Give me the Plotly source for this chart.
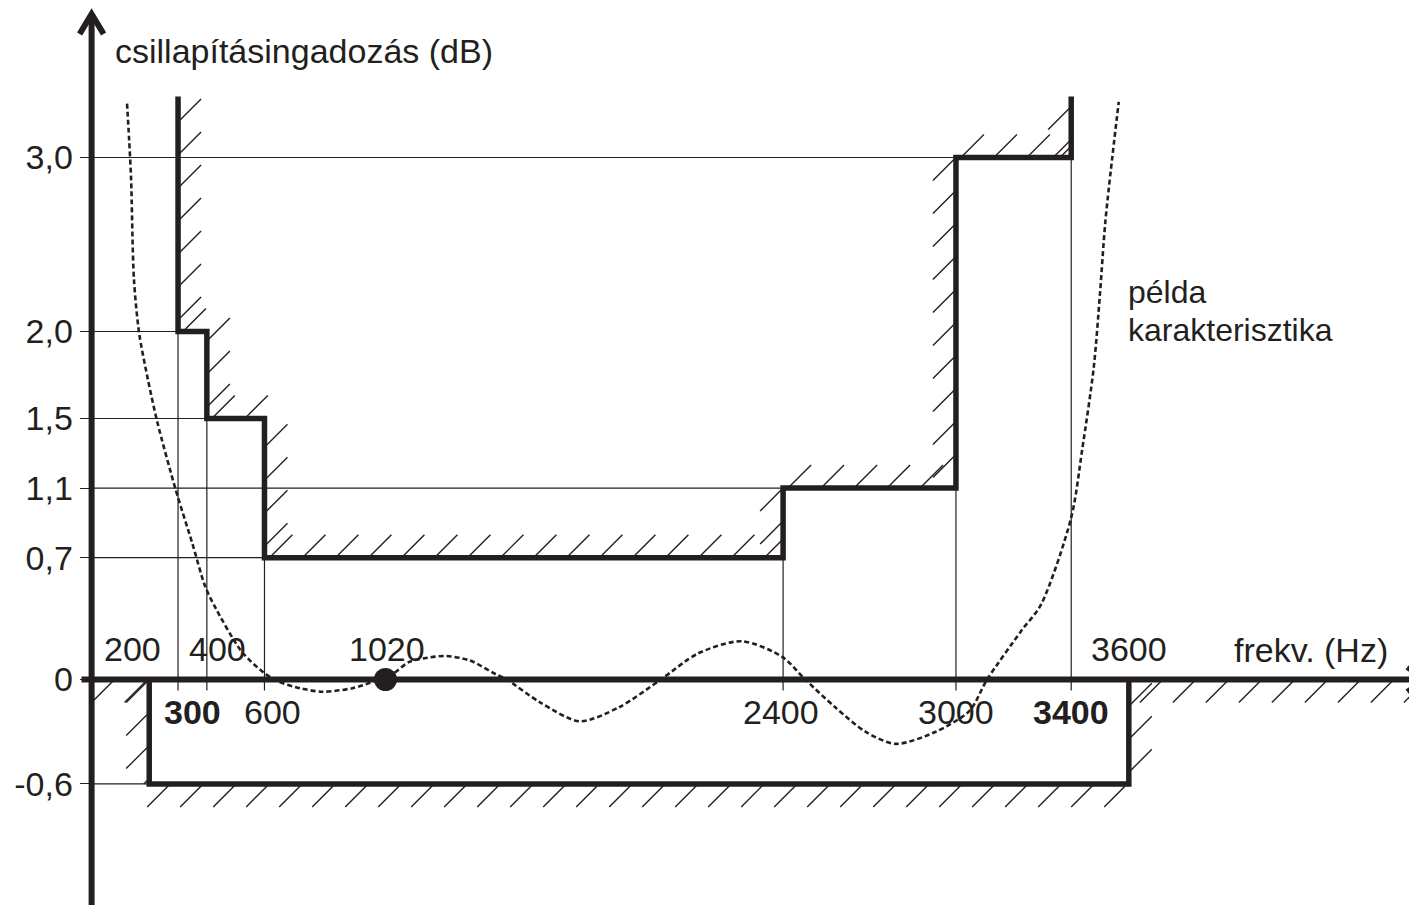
import plotly.graph_objects as go

# ---------------- data ----------------
UPPER_EDGES_HZ = [300, 400, 600, 2400, 3000, 3400]     # step edges of the upper limit mask
UPPER_LIMITS_DB = [2.0, 1.5, 0.7, 1.1, 3.0]             # limit between consecutive edges
MASK_TOP_DB = 3.35                                      # open-ended top of the mask walls
LOWER_EDGES_HZ = [200, 3600]                            # lower mask edges
LOWER_LIMIT_DB = -0.6
REF_FREQ_HZ = 1020
REF_LEVEL_DB = 0.0

Y_TICK_VALUES = [-0.6, 0, 0.7, 1.1, 1.5, 2.0, 3.0]
Y_TICK_TEXT = ["-0,6", "0", "0,7", "1,1", "1,5", "2,0", "3,0"]

X_LABELS_ABOVE_HZ = [200, 400, 1020, 3600]
X_LABELS_ABOVE = ["200", "400", "1020", "3600"]
X_LABELS_BELOW_HZ = [300, 600, 2400, 3000, 3400]
X_LABELS_BELOW = ["<b>300</b>", "600", "2400", "3000", "<b>3400</b>"]

Y_TITLE = "csillapításingadozás (dB)"
X_TITLE = "frekv. (Hz)"
CURVE_LABEL = ["példa", "karakterisztika"]

# example characteristic (dotted curve)
EXAMPLE_HZ = [123, 130, 137, 147, 165, 196, 228, 292, 350, 393, 424, 521, 597, 646, 723, 801,
              906, 984, 1020, 1101, 1166, 1231, 1312, 1403, 1441, 1555, 1694, 1830, 1976, 2105,
              2257, 2397, 2477, 2581, 2686, 2791, 2930, 3047, 3108, 3227, 3295, 3400, 3438, 3478,
              3500, 3519, 3565]
EXAMPLE_DB = [3.31, 3.11, 2.88, 2.30, 1.99, 1.72, 1.48, 1.09, 0.78, 0.54, 0.43, 0.16, 0.04, -0.01,
              -0.05, -0.07, -0.05, -0.01, 0.0, 0.10, 0.125, 0.135, 0.11, 0.03, 0.0, -0.13, -0.24,
              -0.16, 0.0, 0.15, 0.22, 0.13, 0.0, -0.16, -0.30, -0.37, -0.30, -0.18, 0.0, 0.28,
              0.43, 0.93, 1.32, 1.79, 2.22, 2.64, 3.32]

# ---------------- geometry / style ----------------
REF_W, REF_H = 1417, 905
OFF = 8                          # page body margin
FIG_W, FIG_H = REF_W - OFF, REF_H - OFF
X0_PX, PXX = 91.6, 0.28812       # window px of 0 Hz, px per Hz
Y0_PX, PXY = 679.5, 174.0        # window px of 0 dB, px per dB
X_MIN, X_MAX = (OFF - X0_PX) / PXX, (REF_W - X0_PX) / PXX
Y_MIN, Y_MAX = (Y0_PX - REF_H) / PXY, (Y0_PX - OFF) / PXY

INK = "#231f20"
FONT = "Liberation Sans, Arial, sans-serif"
FS = 34

HX, HY = 23 / PXX, 23 / PXY     # hatch stroke extent
SX, SY = 33 / PXX, 33 / PXY     # hatch spacing
TICK_DB = 11 / PXY
X_END = X_MAX + 40


def paper_x(p):
    return (p - OFF) / FIG_W


def paper_y(p):
    return 1 - (p - OFF) / FIG_H


# build polylines
upper = [(UPPER_EDGES_HZ[0], MASK_TOP_DB)]
for i, lim in enumerate(UPPER_LIMITS_DB):
    upper.append((UPPER_EDGES_HZ[i], lim))
    upper.append((UPPER_EDGES_HZ[i + 1], lim))
upper.append((UPPER_EDGES_HZ[-1], MASK_TOP_DB))

lower = [(0, 0), (LOWER_EDGES_HZ[0], 0), (LOWER_EDGES_HZ[0], LOWER_LIMIT_DB),
         (LOWER_EDGES_HZ[1], LOWER_LIMIT_DB), (LOWER_EDGES_HZ[1], 0), (X_END, 0)]


def hatch(poly, hatch_left):
    xs, ys = [], []

    def seg(a, b):
        xs.extend([a[0], b[0], None])
        ys.extend([a[1], b[1], None])

    n = len(poly)
    for i in range(n - 1):
        (x0, y0), (x1, y1) = poly[i], poly[i + 1]
        nxt = poly[i + 2] if i + 2 < n else None
        prv = poly[i - 1] if i >= 1 else None
        if y0 == y1:
            xa, xb = min(x0, x1), max(x0, x1)
            side_up = ((x1 > x0) == hatch_left)
            if side_up:
                clip = nxt is not None and nxt[1] > y1
                b = xa + 0.15 * SX
                while b < xb - 0.05 * SX:
                    ex, ey = b + HX, y0 + HY
                    if clip and ex > xb:
                        t = (xb - b) / HX
                        ex, ey = xb, y0 + HY * t
                    seg((b, y0), (ex, ey))
                    b += SX
            else:
                clip = prv is None or prv[1] < y0
                b = xb - 0.05 * SX
                while b > xa + 0.1 * SX:
                    sx_, sy_ = b - HX, y0 - HY
                    if clip and sx_ < xa:
                        t = (b - xa) / HX
                        sx_, sy_ = xa, y0 - HY * t
                    seg((sx_, sy_), (b, y0))
                    b -= SX
        else:
            ya, yb = min(y0, y1), max(y0, y1)
            upward = y1 > y0
            side_right = (upward != hatch_left)
            if side_right:
                cap = (not hatch_left) or i == 0 or i == n - 2
                b = ya + 0.35 * SY
                while b < yb - 0.1 * SY:
                    ex, ey = x0 + HX, b + HY
                    if cap and ey > yb:
                        t = (yb - b) / HY
                        ex, ey = x0 + HX * t, yb
                    seg((x0, b), (ex, ey))
                    b += SY
            else:
                b = yb - 0.3 * SY if (i == 0 or i == n - 2) else yb
                while b > ya + 0.05 * SY:
                    sx_, sy_ = x0 - HX, b - HY
                    if sy_ < ya:
                        t = (b - ya) / HY
                        sx_, sy_ = x0 - HX * t, ya
                    seg((sx_, sy_), (x0, b))
                    b -= SY
    return xs, ys


fig = go.Figure()

# thin guide lines
gx, gy = [], []
for i, lim in enumerate(UPPER_LIMITS_DB):
    first = min(e for j, e in enumerate(UPPER_EDGES_HZ[:-1]) if UPPER_LIMITS_DB[j] == lim)
    gx += [0, first, None]
    gy += [lim, lim, None]
gx += [0, LOWER_EDGES_HZ[0], None]
gy += [LOWER_LIMIT_DB, LOWER_LIMIT_DB, None]
levels = [MASK_TOP_DB] + UPPER_LIMITS_DB + [MASK_TOP_DB]
for i, e in enumerate(UPPER_EDGES_HZ):
    top = min(levels[i], levels[i + 1])
    gx += [e, e, None]
    gy += [-TICK_DB, top, None]
fig.add_trace(go.Scatter(x=gx, y=gy, mode="lines", line=dict(color=INK, width=1.2),
                         hoverinfo="skip"))

# hatching
for poly, left in ((upper, True), (lower, False)):
    hx, hy = hatch(poly, left)
    fig.add_trace(go.Scatter(x=hx, y=hy, mode="lines", line=dict(color=INK, width=1.4),
                             hoverinfo="skip"))

# example characteristic
fig.add_trace(go.Scatter(x=EXAMPLE_HZ, y=EXAMPLE_DB, mode="lines",
                         line=dict(color=INK, width=2.6, dash="5px,3px", shape="spline",
                                   smoothing=0.8)))

# masks
fig.add_trace(go.Scatter(x=[p[0] for p in upper], y=[p[1] for p in upper], mode="lines",
                         line=dict(color=INK, width=5.5)))
fig.add_trace(go.Scatter(x=[p[0] for p in lower[1:5]], y=[p[1] for p in lower[1:5]],
                         mode="lines", line=dict(color=INK, width=5.5)))

# reference point
fig.add_trace(go.Scatter(x=[REF_FREQ_HZ], y=[REF_LEVEL_DB], mode="markers",
                         marker=dict(color=INK, size=23)))

# axes lines + arrows
Y_TIP = (Y0_PX - 14) / PXY
X_TIP = X_MAX + 8 / PXX
shapes = [
    dict(type="line", x0=0, x1=0, y0=Y_MIN, y1=Y_TIP, line=dict(color=INK, width=6)),
    dict(type="line", x0=-35, x1=X_TIP, y0=0, y1=0, line=dict(color=INK, width=6)),
    dict(type="path", xsizemode="pixel", ysizemode="pixel", xanchor=0, yanchor=Y_TIP,
         path="M-12,-20 L0,0 L12,-20", line=dict(color=INK, width=6)),
    dict(type="path", xsizemode="pixel", ysizemode="pixel", xanchor=X_TIP, yanchor=0,
         path="M-18,12 L0,0 L-18,-12", line=dict(color=INK, width=5)),
]
for s in shapes:
    s["xref"] = "x"
    s["yref"] = "y"
    s["layer"] = "above"

# labels
ann = []
ABOVE_SHIFT = {200: -17, 400: 11, 1020: 2, 3600: 0}
BELOW_SHIFT = {300: 14, 600: 8, 2400: -2, 3000: 0, 3400: 0}
for f, t in zip(X_LABELS_ABOVE_HZ, X_LABELS_ABOVE):
    ann.append(dict(x=f, y=0, text=t, showarrow=False, xshift=ABOVE_SHIFT[f], yshift=31,
                    xanchor="center", yanchor="middle"))
for f, t in zip(X_LABELS_BELOW_HZ, X_LABELS_BELOW):
    ann.append(dict(x=f, y=0, text=t, showarrow=False, xshift=BELOW_SHIFT[f], yshift=-32,
                    xanchor="center", yanchor="middle"))
ann.append(dict(x=paper_x(1232), y=paper_y(650), xref="paper", yref="paper", text=X_TITLE,
                showarrow=False, xanchor="left", yanchor="middle"))
ann.append(dict(x=paper_x(113), y=paper_y(51), xref="paper", yref="paper", text=Y_TITLE,
                showarrow=False, xanchor="left", yanchor="middle"))
ann.append(dict(x=paper_x(1126), y=paper_y(292), xref="paper", yref="paper", text=CURVE_LABEL[0],
                showarrow=False, xanchor="left", yanchor="middle", font=dict(size=32)))
ann.append(dict(x=paper_x(1126), y=paper_y(330), xref="paper", yref="paper", text=CURVE_LABEL[1],
                showarrow=False, xanchor="left", yanchor="middle", font=dict(size=32)))

fig.update_layout(
    width=FIG_W, height=FIG_H, margin=dict(l=0, r=0, t=0, b=0),
    paper_bgcolor="white", plot_bgcolor="white", showlegend=False,
    font=dict(family=FONT, size=FS, color=INK),
    shapes=shapes, annotations=ann,
    xaxis=dict(range=[X_MIN, X_MAX], visible=False, domain=[0, 1]),
    yaxis=dict(range=[Y_MIN, Y_MAX], anchor="free", position=(0 - X_MIN) / (X_MAX - X_MIN),
               showgrid=False, zeroline=False, showline=False,
               tickmode="array", tickvals=Y_TICK_VALUES, ticktext=Y_TICK_TEXT,
               ticks="outside", ticklen=12, tickwidth=1.2, tickcolor=INK,
               ticklabelstandoff=0, tickfont=dict(family=FONT, size=FS, color=INK)),
)

fig.write_html("out.html")
